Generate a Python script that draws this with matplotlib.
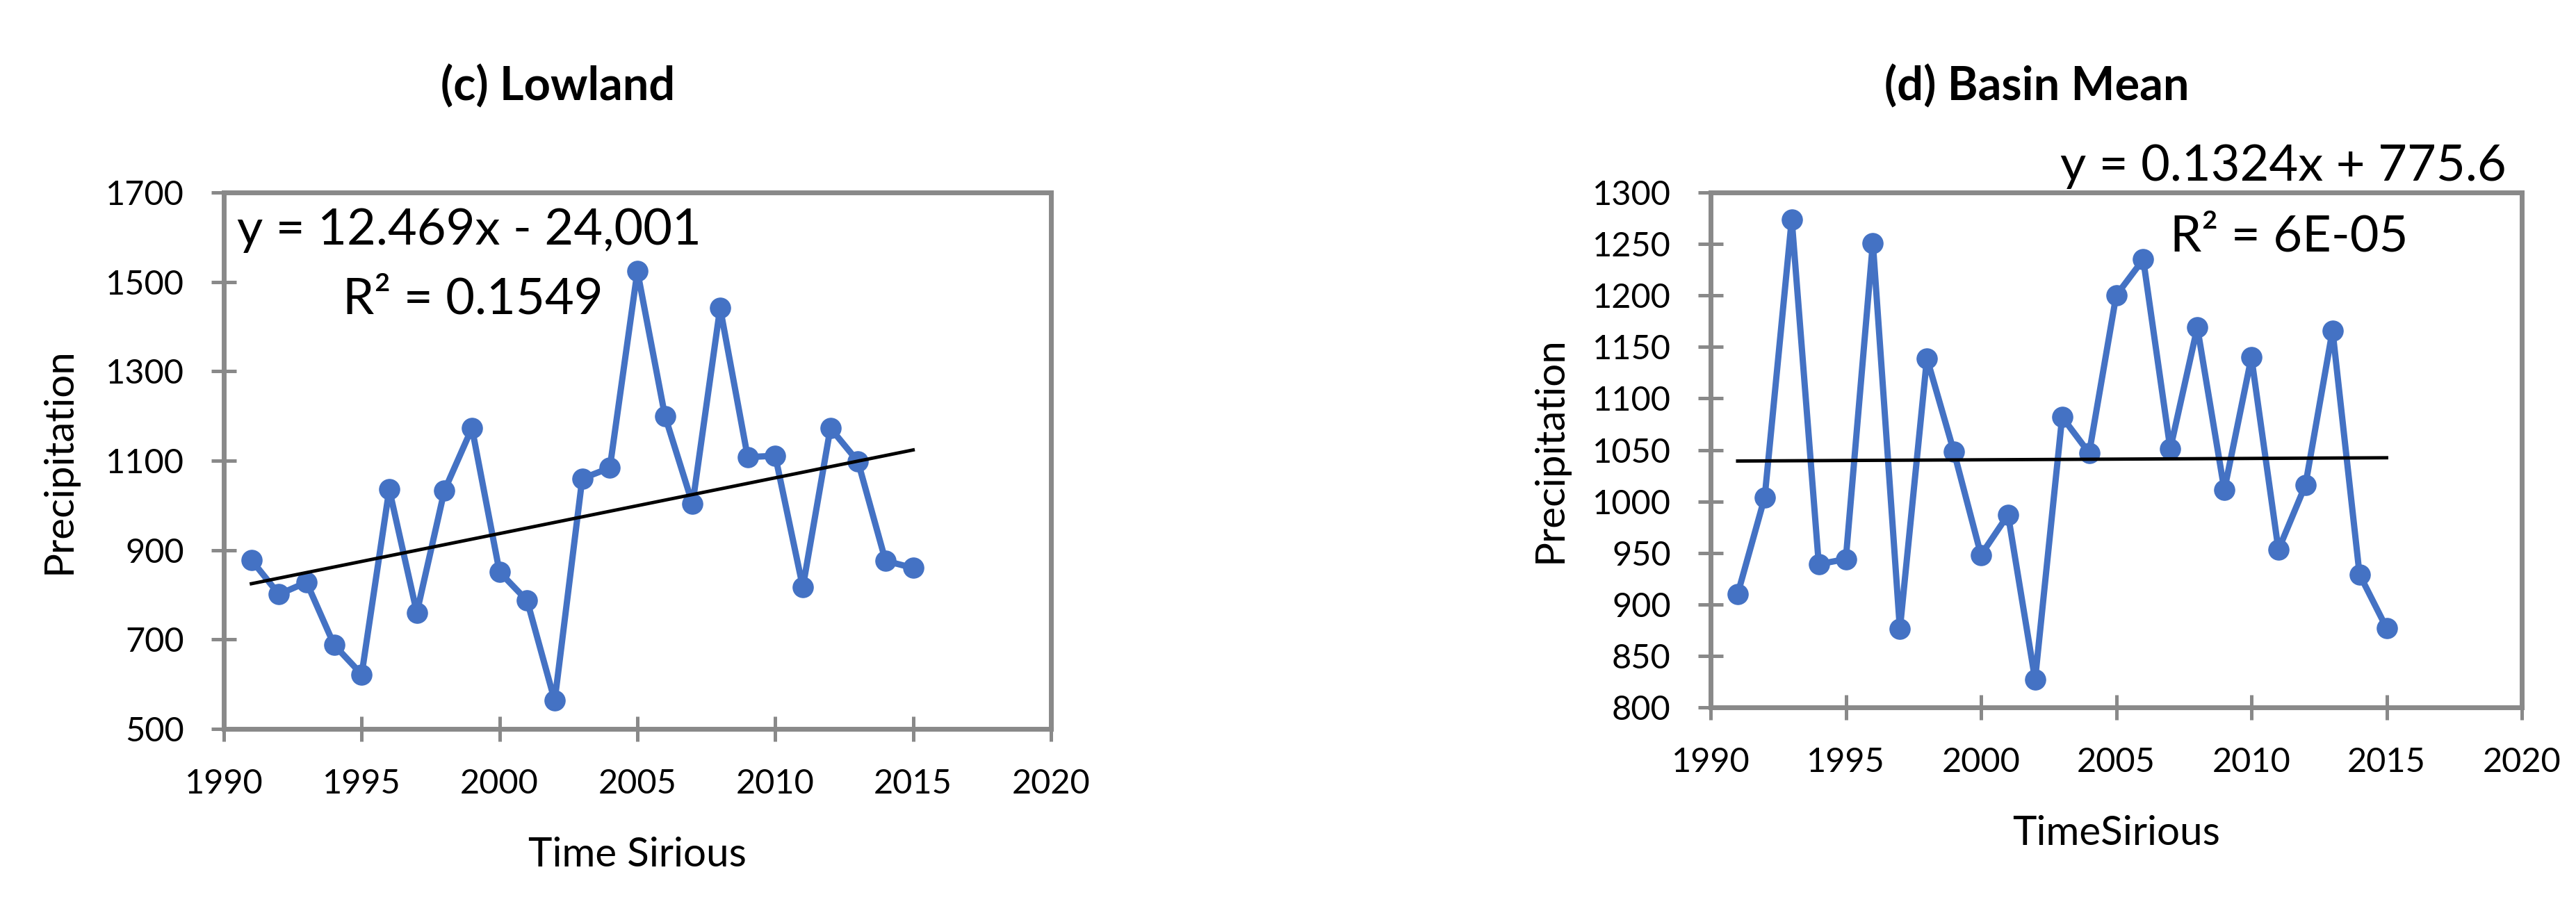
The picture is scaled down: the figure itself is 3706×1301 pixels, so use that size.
import matplotlib
matplotlib.use("Agg")
import matplotlib.pyplot as plt

plt.rcParams['font.family'] = ['Lato', 'DejaVu Sans']

W, H = 3706, 1301

years = list(range(1991, 2016))
lowland = [878, 801, 828, 688, 622, 1036, 760, 1033, 1173, 851, 787, 563, 1060,
           1084, 1524, 1200, 1003, 1442, 1108, 1111, 817, 1173, 1098, 876, 860]
basin_mean = [910, 1004, 1274, 939, 944, 1251, 876, 1139, 1048, 948, 987, 827, 1082,
              1047, 1200, 1235, 1051, 1169, 1011, 1140, 953, 1016, 1166, 929, 877]

# trendline coefficients as printed on the chart
lowland_fit = (12.469, -24001)
basin_fit = (0.1324, 775.6)

x_ticks = [1990, 1995, 2000, 2005, 2010, 2015, 2020]
lowland_yticks = [500, 700, 900, 1100, 1300, 1500, 1700]
basin_yticks = [800, 850, 900, 950, 1000, 1050, 1100, 1150, 1200, 1250, 1300]

blue = '#4472C4'
grey = '#898989'

fig = plt.figure(figsize=(W / 100, H / 100), dpi=100)


def make_axes(left, top, right, bottom):
    return fig.add_axes([left / W, 1 - bottom / H, (right - left) / W, (bottom - top) / H])


def draw_panel(ax, box, values, fit, yticks, title, title_x, xlabel, ylabel_x, eq, eq_xy, r2, r2_xy):
    left, top, right, bottom = box

    def ax_x(px):
        return (px - left) / (right - left)

    def ax_y(py):
        return (bottom - py) / (bottom - top)

    ax.plot(years, values, color=blue, lw=6.5, marker='o', ms=21, mec=blue, zorder=3)
    trend_x = [years[0], years[-1]]
    trend_y = [fit[0] * x + fit[1] for x in trend_x]
    ax.plot(trend_x, trend_y, color='black', lw=3.5, zorder=4)

    ax.set_xlim(1990, 2020)
    ax.set_ylim(yticks[0], yticks[-1])
    ax.set_xticks(x_ticks)
    ax.set_yticks(yticks)
    for s in ax.spines.values():
        s.set_color(grey)
        s.set_linewidth(5)
    ax.tick_params(direction='inout', length=26.6, width=3.6, color=grey,
                   labelsize=35, pad=28)

    ax.set_title(title, x=ax_x(title_x), y=ax_y(153), fontsize=48, fontweight='bold')
    ax.set_xlabel(xlabel, fontsize=42, va='baseline')
    ax.xaxis.set_label_coords(0.5, ax_y(bottom + 198))
    ax.set_ylabel('Precipitation', fontsize=42, va='center', ha='center')
    ax.yaxis.set_label_coords(ax_x(ylabel_x), 0.5)

    ax.text(ax_x(eq_xy[0]), ax_y(eq_xy[1]), eq, transform=ax.transAxes,
            fontsize=52, va='baseline', ha='left', clip_on=False)
    ax.text(ax_x(r2_xy[0]), ax_y(r2_xy[1]), r2, transform=ax.transAxes,
            fontsize=52, va='baseline', ha='left', clip_on=False)


box_c = (322, 277, 1512, 1049)
box_d = (2461, 277, 3628, 1018)
ax_c = make_axes(*box_c)
ax_d = make_axes(*box_d)

draw_panel(ax_c, box_c, lowland, lowland_fit, lowland_yticks, '(c) Lowland', 803,
           'Time Sirious', 85, 'y = 12.469x - 24,001', (341, 352), 'R² = 0.1549', (493, 452))
draw_panel(ax_d, box_d, basin_mean, basin_fit, basin_yticks, '(d) Basin Mean', 2930,
           'TimeSirious', 2230, 'y = 0.1324x + 775.6', (2964, 260), 'R² = 6E-05', (3122, 362))

fig.savefig('out.png', dpi=100)
